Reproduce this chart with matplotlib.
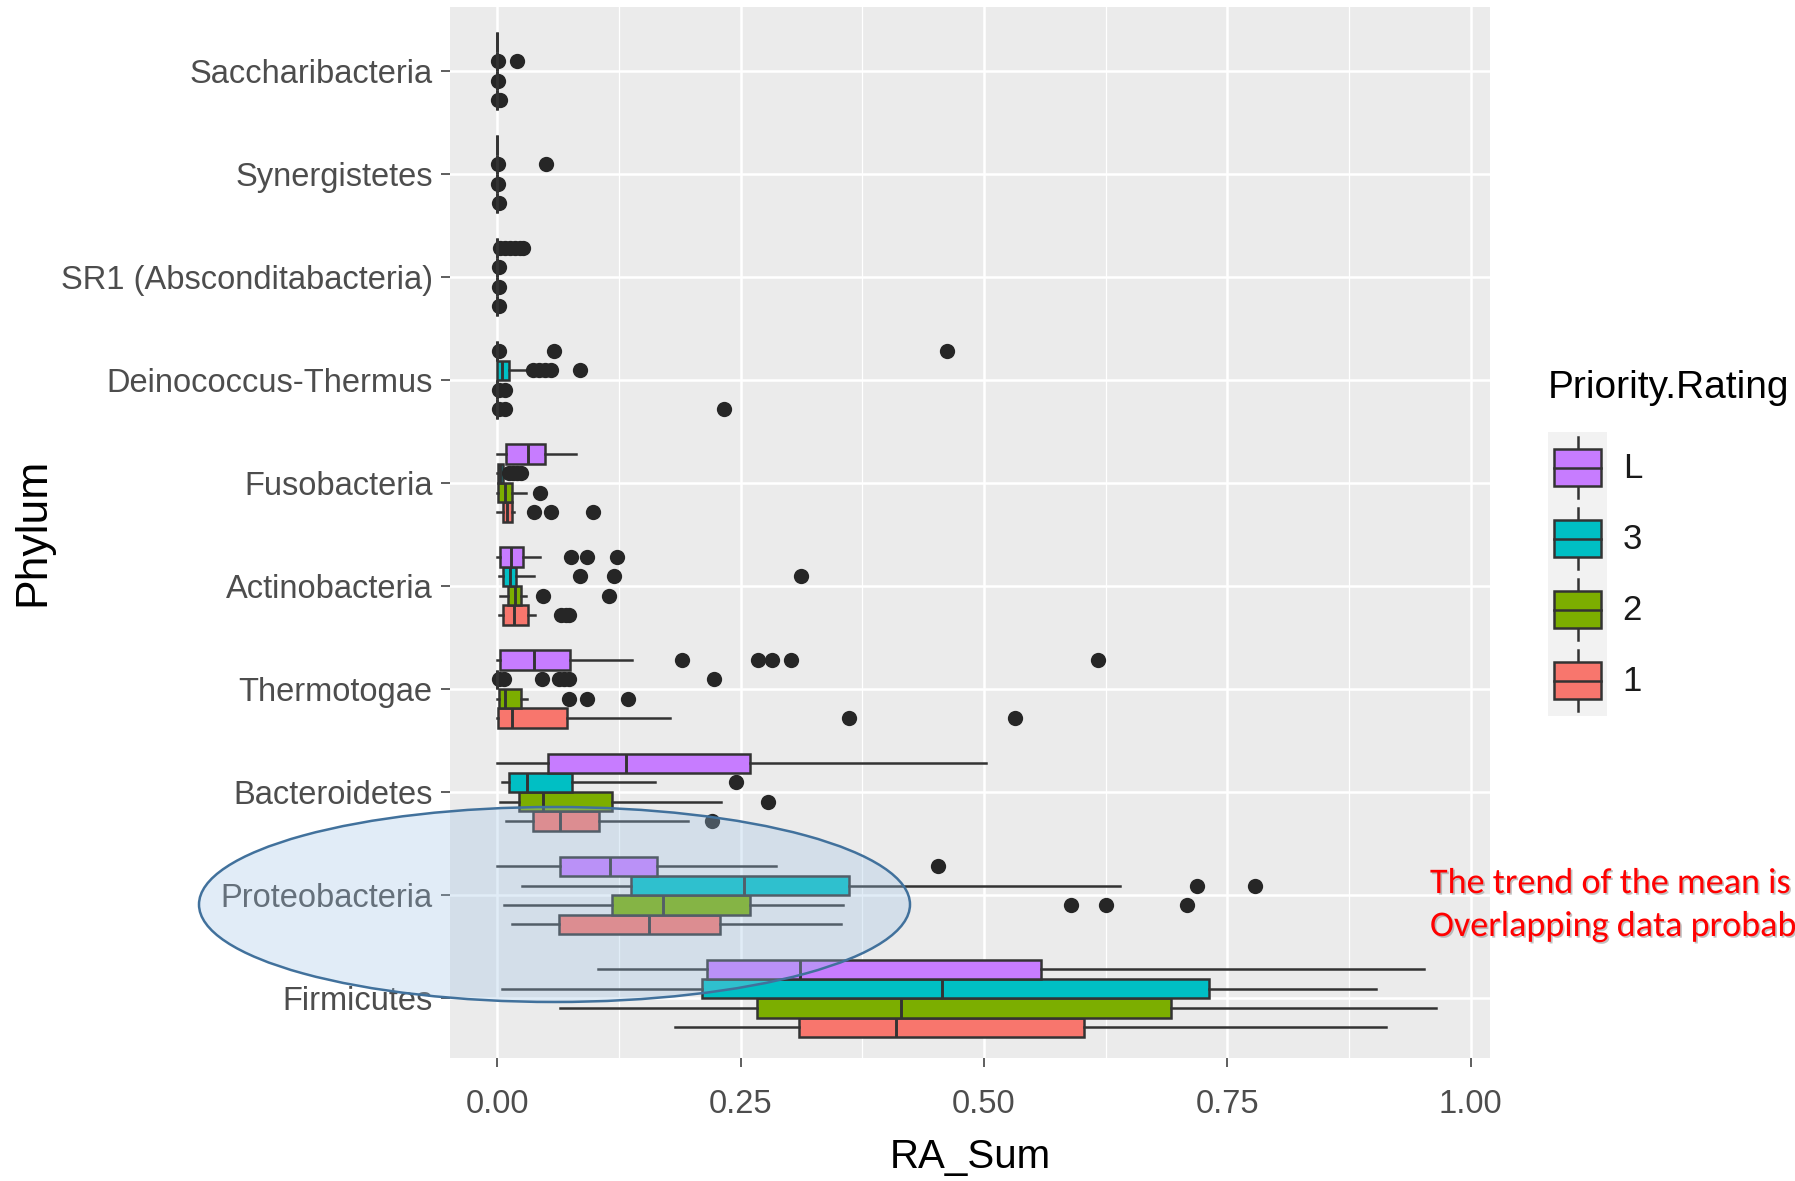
import matplotlib
matplotlib.use("Agg")
import matplotlib.pyplot as plt
from matplotlib import font_manager as fm
from matplotlib.patches import Ellipse, Rectangle, Patch
from matplotlib.lines import Line2D
from matplotlib.legend_handler import HandlerBase
import matplotlib.patheffects as pe

# ---------------- data (bottom -> top) ----------------
phyla = ["Firmicutes", "Proteobacteria", "Bacteroidetes", "Thermotogae",
         "Actinobacteria", "Fusobacteria", "Deinococcus-Thermus",
         "SR1 (Absconditabacteria)", "Synergistetes", "Saccharibacteria"]

ratings = ["1", "2", "3", "L"]
rating_colors = ["#F8766D", "#7CAE00", "#00BFC4", "#C77CFF"]

# rating 1
lo_1 = [0.182, 0.015, 0.009, 0.000, 0.002, 0.000, 0, 0, 0, 0]
q1_1 = [0.310, 0.063, 0.036, 0.001, 0.006, 0.006, 0, 0, 0, 0]
md_1 = [0.410, 0.156, 0.064, 0.015, 0.017, 0.010, 0, 0, 0, 0]
q3_1 = [0.603, 0.229, 0.104, 0.071, 0.031, 0.015, 0, 0, 0, 0]
hi_1 = [0.913, 0.353, 0.196, 0.177, 0.039, 0.017, 0, 0, 0, 0]
out_1 = [[], [], [0.220], [0.361, 0.532], [0.065, 0.070, 0.074],
         [0.038, 0.055, 0.098], [0.002, 0.008, 0.233], [0.002], [0.002],
         [0.001, 0.003]]

# rating 2
lo_2 = [0.064, 0.007, 0.003, 0.000, 0.003, 0.000, 0, 0, 0, 0]
q1_2 = [0.267, 0.118, 0.022, 0.002, 0.011, 0.001, 0, 0, 0, 0]
md_2 = [0.415, 0.170, 0.047, 0.008, 0.018, 0.008, 0, 0, 0, 0]
q3_2 = [0.692, 0.260, 0.118, 0.024, 0.024, 0.015, 0, 0, 0, 0]
hi_2 = [0.965, 0.355, 0.230, 0.030, 0.029, 0.029, 0, 0, 0, 0]
out_2 = [[], [0.589, 0.625, 0.709], [0.278], [0.074, 0.092, 0.134],
         [0.047, 0.115], [0.044], [0.002, 0.008], [0.002], [0.001], [0.001]]

# rating 3
lo_3 = [0.005, 0.025, 0.005, 0.000, 0.002, 0.000, 0.000, 0, 0, 0]
q1_3 = [0.210, 0.137, 0.012, 0.000, 0.006, 0.001, 0.000, 0, 0, 0]
md_3 = [0.457, 0.253, 0.030, 0.000, 0.013, 0.003, 0.005, 0, 0, 0]
q3_3 = [0.731, 0.361, 0.077, 0.000, 0.019, 0.006, 0.012, 0, 0, 0]
hi_3 = [0.903, 0.640, 0.162, 0.000, 0.038, 0.009, 0.030, 0, 0, 0]
out_3 = [[], [0.719, 0.779], [0.245],
         [0.002, 0.007, 0.046, 0.063, 0.068, 0.073, 0.222],
         [0.085, 0.120, 0.312], [0.012, 0.016, 0.020, 0.024],
         [0.036, 0.043, 0.049, 0.055, 0.085], [0.002], [0.001, 0.050],
         [0.001, 0.020]]

# rating L
lo_L = [0.103, 0.000, 0.000, 0.000, 0.000, 0.000, 0, 0, 0, 0]
q1_L = [0.215, 0.064, 0.052, 0.003, 0.003, 0.009, 0, 0, 0, 0]
md_L = [0.311, 0.116, 0.132, 0.038, 0.014, 0.031, 0, 0, 0, 0]
q3_L = [0.559, 0.164, 0.260, 0.075, 0.026, 0.049, 0, 0, 0, 0]
hi_L = [0.952, 0.286, 0.502, 0.138, 0.044, 0.081, 0, 0, 0, 0]
out_L = [[], [0.453], [], [0.190, 0.268, 0.282, 0.302, 0.617],
         [0.076, 0.092, 0.123], [], [0.002, 0.058, 0.462],
         [0.003, 0.008, 0.013, 0.018, 0.023, 0.026], [], []]

x_ticks = [0.00, 0.25, 0.50, 0.75, 1.00]
x_ticklabels = ["0.00", "0.25", "0.50", "0.75", "1.00"]

# the note is cropped by the right edge in the original picture
note_lines = ["The trend of the mean is", "Overlapping data probab"]

# ---------------- styling ----------------
plt.rcParams["font.family"] = ["Liberation Sans", "DejaVu Sans"]
names = {f.name for f in fm.fontManager.ttflist}
if "Liberation Sans Narrow" in names:
    tick_family, tick_size = ["Liberation Sans Narrow", "Liberation Sans"], 28
else:
    tick_family, tick_size = ["Liberation Sans", "DejaVu Sans"], 23.5
note_family = [f for f in ["Carlito", "Lato", "Open Sans"] if f in names][:1] + ["DejaVu Sans"]

W, H = 1795, 1181
fig = plt.figure(figsize=(W / 100, H / 100), dpi=100)
ax = fig.add_axes([450 / W, 1 - 1058 / H, (1490 - 450) / W, (1058 - 7) / H])
ax.set_facecolor("#EBEBEB")
for s in ax.spines.values():
    s.set_visible(False)

edge = "#333333"
dodge = 0.75 / 4
offsets = [-0.28125, -0.09375, 0.09375, 0.28125]
series = [
    (lo_1, q1_1, md_1, q3_1, hi_1, out_1),
    (lo_2, q1_2, md_2, q3_2, hi_2, out_2),
    (lo_3, q1_3, md_3, q3_3, hi_3, out_3),
    (lo_L, q1_L, md_L, q3_L, hi_L, out_L),
]
for (lo, q1, md, q3, hi, out), off, col in zip(series, offsets, rating_colors):
    stats = [dict(whislo=a, q1=b, med=c, q3=d, whishi=e, fliers=f)
             for a, b, c, d, e, f in zip(lo, q1, md, q3, hi, out)]
    pos = [i + 1 + off for i in range(len(phyla))]
    ax.bxp(stats, positions=pos, widths=dodge, orientation="horizontal",
           patch_artist=True, showcaps=False, manage_ticks=False,
           boxprops=dict(facecolor=col, edgecolor=edge, linewidth=1.8),
           whiskerprops=dict(color=edge, linewidth=1.8),
           medianprops=dict(color=edge, linewidth=2.1),
           flierprops=dict(marker="o", markerfacecolor="#262626",
                           markeredgecolor="none", markersize=11))

ax.set_xlim(-0.0488, 1.020)
ax.set_ylim(0.42, 10.62)
ax.set_xticks(x_ticks)
ax.set_xticklabels(x_ticklabels)
ax.set_xticks([0.125, 0.375, 0.625, 0.875], minor=True)
ax.set_yticks(range(1, len(phyla) + 1))
ax.set_yticklabels(phyla)
ax.set_axisbelow(True)
ax.grid(which="major", color="white", linewidth=1.8)
ax.grid(which="minor", axis="x", color="white", linewidth=0.9)
ax.tick_params(which="major", length=6.5, width=1.1, color=edge,
               labelcolor="#4D4D4D", labelsize=tick_size)
ax.tick_params(which="minor", length=0)
ax.tick_params(axis="x", pad=16)
ax.tick_params(axis="y", pad=6)
for lab in ax.get_xticklabels() + ax.get_yticklabels():
    lab.set_family(tick_family)

fig.text(970 / W, 1 - 1168 / H, "RA_Sum", ha="center", va="baseline",
         fontsize=29, color="black")
fig.text(33 / W, 1 - 532 / H, "Phylum", ha="center", va="center",
         rotation=90, fontsize=32, color="black")


# ---------------- legend ----------------
class BoxKey(HandlerBase):
    def create_artists(self, legend, orig_handle, xdescent, ydescent,
                       width, height, fontsize, trans):
        x0, y0 = -xdescent, -ydescent
        fc = orig_handle.get_facecolor()
        bg = Rectangle((x0, y0), width, height, facecolor="#F2F2F2",
                       edgecolor="none", transform=trans)
        cx = x0 + width / 2
        wl = Line2D([cx, cx], [y0 + 0.07 * height, y0 + 0.93 * height],
                    color=edge, lw=1.8, transform=trans)
        bw, bh = 0.78 * width, 0.52 * height
        box = Rectangle((cx - bw / 2, y0 + 0.24 * height), bw, bh,
                        facecolor=fc, edgecolor=edge, lw=1.8, transform=trans)
        med = Line2D([cx - bw / 2, cx + bw / 2], [y0 + height / 2] * 2,
                     color=edge, lw=1.8, transform=trans)
        return [bg, wl, box, med]


handles = [Patch(facecolor=c) for c in rating_colors][::-1]
labels = ratings[::-1]
leg_fs = 25
px_per_fs = leg_fs * 100 / 72
row_px = 71
leg = ax.legend(handles, labels, title="Priority.Rating",
                loc="upper left", bbox_to_anchor=(1548 / W, 1 - 370 / H),
                bbox_transform=fig.transFigure, frameon=False,
                handler_map={Patch: BoxKey()}, fontsize=leg_fs,
                title_fontproperties={"size": 28},
                handlelength=59 / px_per_fs,
                handleheight=(row_px / px_per_fs - 0.245) / 0.65,
                labelspacing=0, handletextpad=0.45, borderpad=0,
                borderaxespad=0, alignment="left")
leg._legend_box.sep = 19
for t in leg.get_texts():
    t.set_color("#1A1A1A")

# ---------------- annotation ----------------
ell = Ellipse((554.5 / W, 1 - 904.5 / H), 711 / W, 195 / H,
              transform=fig.transFigure, facecolor=(0.616, 0.765, 0.902, 0.3),
              edgecolor="#41719C", linewidth=1.8, zorder=10)
fig.add_artist(ell)

for i, line in enumerate(note_lines):
    fig.text(1430 / W, 1 - (883 + 43 * i) / H, line, ha="left", va="center",
             color="#FF0000", fontsize=26, family=note_family,
             path_effects=[pe.withSimplePatchShadow(offset=(1.2, -1.2),
                                                    shadow_rgbFace="#999999",
                                                    alpha=0.6)])

fig.savefig("out.png", dpi=100)
